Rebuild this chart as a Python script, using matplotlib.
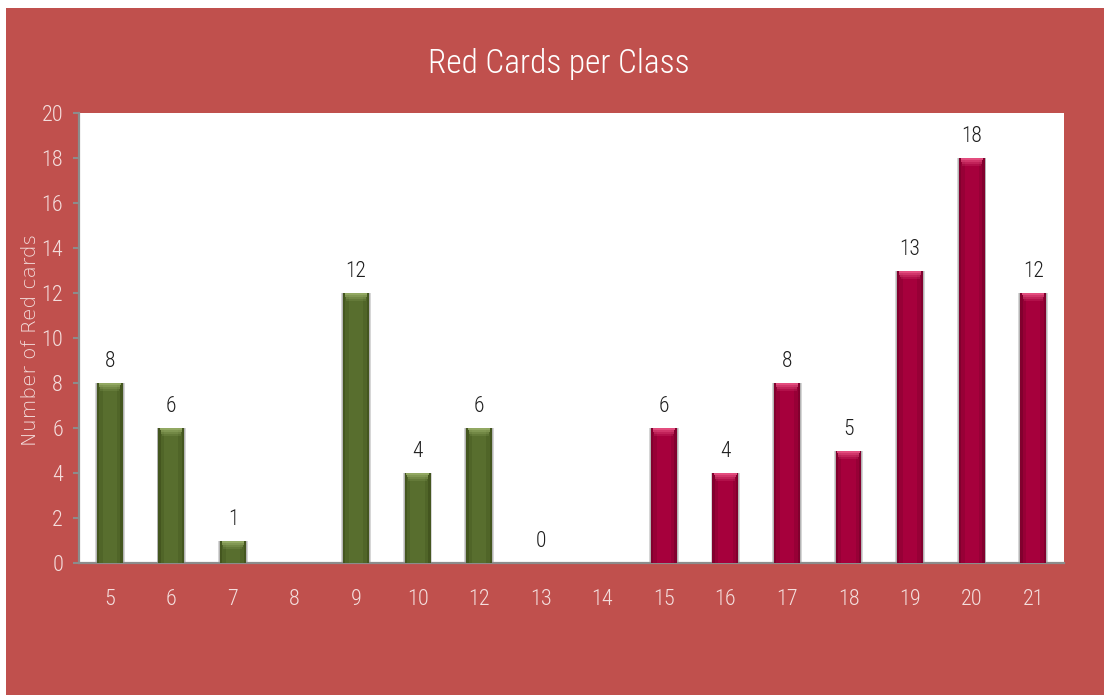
import matplotlib
matplotlib.use("Agg")
import matplotlib.pyplot as plt
from matplotlib.patches import Rectangle
import numpy as np

# ---- data ----
classes = ["5", "6", "7", "8", "9", "10", "12", "13", "14", "15", "16", "17", "18", "19", "20", "21"]
red_cards = [8, 6, 1, None, 12, 4, 6, 0, None, 6, 4, 8, 5, 13, 18, 12]
title = "Red Cards per Class"
y_label = "Number of Red cards"
y_ticks = [0, 2, 4, 6, 8, 10, 12, 14, 16, 18, 20]
split_class = 14  # classes below are green, above crimson

BG = "#C0504D"
PINK_TXT = "#F4DEDD"
GREEN_SHADES = ["#44561F", "#506528", "#586E2E"]
CRIM_SHADES = ["#82002E", "#970036", "#A6003C"]
GREEN_HI, CRIM_HI = "#9DB36C", "#EE5A8A"
NARROW = ["Roboto Condensed", "Open Sans Condensed", "Liberation Sans Narrow", "DejaVu Sans"]

W, H = 1104, 695
fig = plt.figure(figsize=(W / 100, H / 100), dpi=100, facecolor="white")
fig.patches.append(Rectangle((6 / W, 0), 1 - 6 / W, 1 - 8 / H, transform=fig.transFigure,
                             facecolor=BG, edgecolor="none", zorder=-10))

ax = fig.add_axes([79 / W, 1 - 563 / H, (1064 - 79) / W, (563 - 113) / H])
ax.set_facecolor("white")

x = np.arange(len(classes))
vals = np.array([np.nan if v is None else v for v in red_cards], dtype=float)
valid = ~np.isnan(vals) & (np.nan_to_num(vals) > 0)
is_green = np.array([int(c) < split_class for c in classes])
xv, vv, gv = x[valid], vals[valid], is_green[valid]

bw = 0.42
# soft shadow
ax.bar(xv, vv, width=bw + 0.06, color="#8a8a8a", alpha=0.35, zorder=2, linewidth=0)
ax.bar(xv, vv, width=bw + 0.03, color="#7a7a7a", alpha=0.35, zorder=2, linewidth=0)
# cylindrical shading: outer dark -> inner lighter
for k, frac in enumerate([1.0, 0.82, 0.55]):
    cols = [GREEN_SHADES[k] if g else CRIM_SHADES[k] for g in gv]
    ax.bar(xv, vv, width=bw * frac, color=cols, linewidth=0, zorder=3 + k * 0.1)
# top highlight cap with fading
slice_h = 0.09
for k, a in enumerate([0.85, 0.6, 0.38, 0.18]):
    cols = [GREEN_HI if g else CRIM_HI for g in gv]
    ax.bar(xv, slice_h, bottom=vv - slice_h * (k + 1), width=bw * (0.86 - 0.04 * k),
           color=cols, alpha=a, linewidth=0, zorder=4)

# value labels
for xi, v in zip(x, vals):
    if np.isnan(v):
        continue
    ax.annotate(f"{int(v)}", (xi, v), xytext=(0, 11.5), textcoords="offset points",
                ha="center", va="baseline", fontsize=15.5, color="#1e1e1e", family=NARROW,
                fontstretch="condensed", fontweight="light")

ax.set_xlim(-0.5, len(classes) - 0.5)
ax.set_ylim(0, 20)
ax.set_yticks(y_ticks)
ax.set_xticks(x)
ax.set_xticklabels(classes)

for lab in ax.get_xticklabels() + ax.get_yticklabels():
    lab.set_family(NARROW)
    lab.set_stretch("condensed")
    lab.set_fontweight("light")
    lab.set_fontsize(16)
    lab.set_color(PINK_TXT)

ax.tick_params(axis="y", direction="out", length=4.5, width=1.5, color="#8C8C8C", pad=7)
ax.tick_params(axis="x", length=0, pad=18.5)

for s in ["top", "right"]:
    ax.spines[s].set_visible(False)
for s in ["left", "bottom"]:
    ax.spines[s].set_color("#8C8C8C")
    ax.spines[s].set_linewidth(1.6)

fig.text(559 / W, 1 - 73 / H, title, ha="center", va="baseline", fontsize=24,
         color="white", family=NARROW, fontstretch="condensed", fontweight="light")
fig.text(31 / W, 1 - 340 / H, y_label, rotation=90, ha="center", va="center",
         fontsize=14.5, color=PINK_TXT, family=["DejaVu Sans"], fontweight="light")

fig.savefig("out.png", dpi=100, facecolor="white")
